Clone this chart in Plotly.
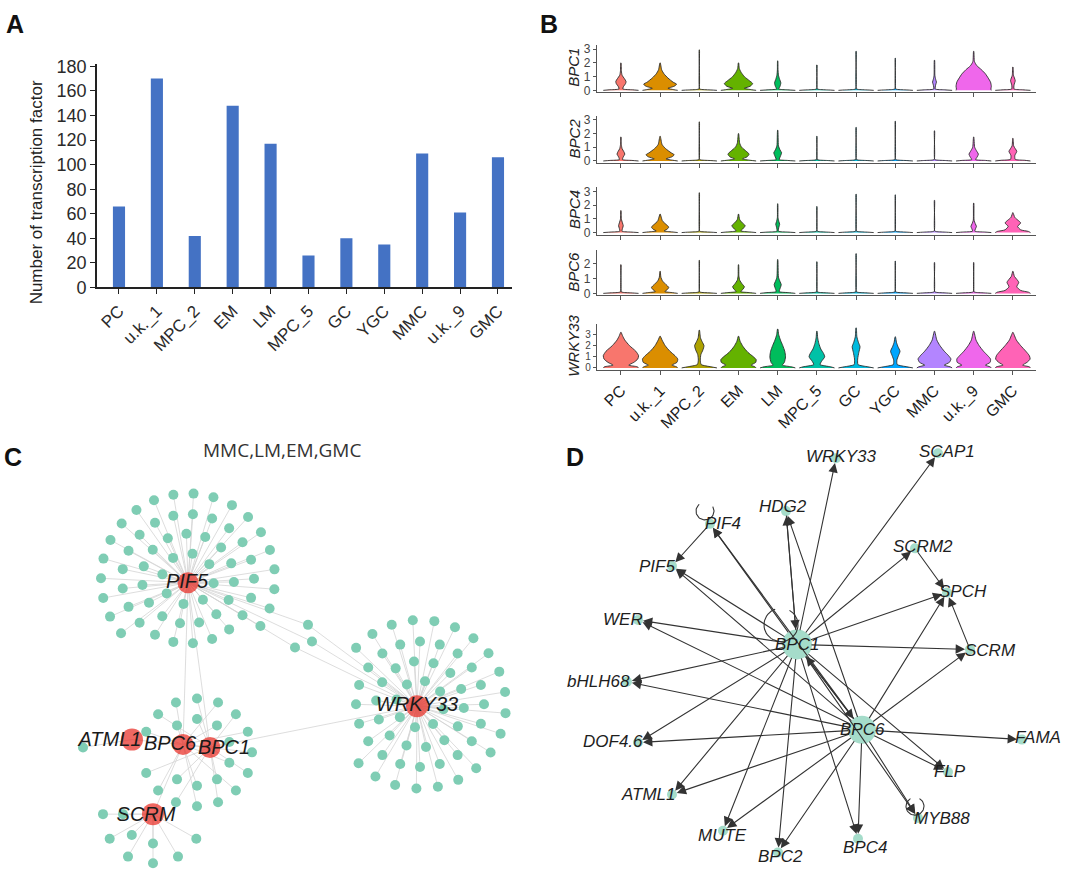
import math
import plotly.graph_objects as go

W, H = 1080, 883
FONT = "Liberation Sans, Arial, Helvetica, sans-serif"

# ---------------- Panel A data ----------------
cell_types = ["PC", "u.k._1", "MPC_2", "EM", "LM", "MPC_5", "GC", "YGC", "MMC", "u.k._9", "GMC"]
tf_counts = [66, 170, 42, 148, 117, 26, 40, 35, 109, 61, 106]
a_yticks = [0, 20, 40, 60, 80, 100, 120, 140, 160, 180]

# ---------------- Panel B data ----------------
genes = ["BPC1", "BPC2", "BPC4", "BPC6", "WRKY33"]
violin_colors = ["#F8766D", "#DB8E00", "#AEA200", "#64B200", "#00BD5C", "#00C1A7",
                 "#00BADE", "#00A6FF", "#B385FF", "#EF67EB", "#FF63B6"]
# density profiles: [expression, half-width]
bpc1_profiles = [
    [[0, .45], [.04, .3], [.1, .05], [.25, .06], [.5, .12], [.65, .13], [.85, .09], [1.1, .03], [1.4, .012], [2.0, .003]],
    [[0, .45], [.05, .35], [.15, .2], [.3, .36], [.45, .42], [.6, .33], [.9, .2], [1.2, .1], [1.5, .04], [2.0, .004]],
    [[0, .45], [.03, .3], [.07, .05], [.12, .006], [2.95, .003]],
    [[0, .45], [.05, .33], [.15, .15], [.3, .3], [.5, .36], [.7, .28], [1.0, .15], [1.3, .07], [1.6, .02], [2.0, .004]],
    [[0, .45], [.04, .25], [.1, .03], [.3, .06], [.55, .08], [.8, .05], [1.1, .02], [1.5, .008], [2.15, .003]],
    [[0, .45], [.03, .3], [.07, .05], [.12, .006], [1.85, .003]],
    [[0, .45], [.03, .3], [.07, .05], [.12, .006], [2.85, .003]],
    [[0, .45], [.03, .3], [.07, .05], [.12, .006], [2.35, .003]],
    [[0, .45], [.04, .25], [.1, .02], [.4, .03], [.6, .05], [.8, .03], [1.1, .01], [2.2, .003]],
    [[0, .45], [.1, .44], [.3, .45], [.6, .43], [.9, .37], [1.2, .3], [1.5, .2], [1.8, .08], [2.1, .02], [2.85, .003]],
    [[0, .45], [.04, .25], [.1, .03], [.4, .03], [.7, .06], [.9, .04], [1.1, .015], [1.7, .003]],
]
bpc2_profiles = [
    [[0, .45], [.04, .28], [.1, .04], [.3, .06], [.5, .1], [.7, .07], [.9, .03], [1.2, .01], [1.75, .003]],
    [[0, .45], [.05, .33], [.15, .15], [.3, .3], [.45, .36], [.6, .28], [.9, .14], [1.2, .05], [1.8, .004]],
    [[0, .45], [.03, .3], [.07, .05], [.12, .006], [2.85, .003]],
    [[0, .45], [.05, .3], [.15, .1], [.3, .22], [.5, .27], [.7, .2], [1.0, .08], [1.3, .03], [2.0, .003]],
    [[0, .45], [.04, .25], [.1, .04], [.35, .07], [.6, .1], [.8, .06], [1.1, .02], [2.25, .003]],
    [[0, .45], [.03, .3], [.07, .05], [.12, .006], [1.8, .003]],
    [[0, .45], [.03, .3], [.07, .05], [.12, .006], [2.45, .003]],
    [[0, .45], [.03, .3], [.07, .05], [.12, .006], [2.9, .003]],
    [[0, .45], [.03, .3], [.07, .05], [.12, .006], [2.2, .003]],
    [[0, .45], [.04, .3], [.1, .05], [.3, .09], [.5, .12], [.7, .08], [1.0, .025], [1.75, .003]],
    [[0, .45], [.05, .3], [.12, .06], [.4, .05], [.7, .1], [.9, .06], [1.1, .02], [1.65, .003]],
]
bpc4_profiles = [
    [[0, .45], [.04, .25], [.1, .03], [.3, .04], [.5, .06], [.7, .04], [1.0, .01], [1.6, .003]],
    [[0, .45], [.05, .3], [.12, .1], [.25, .18], [.4, .22], [.6, .15], [.85, .06], [1.35, .003]],
    [[0, .45], [.03, .3], [.07, .05], [.12, .006], [2.9, .003]],
    [[0, .45], [.05, .28], [.12, .06], [.3, .12], [.5, .17], [.7, .1], [.95, .03], [1.35, .003]],
    [[0, .45], [.04, .25], [.1, .02], [.4, .03], [.6, .05], [.8, .03], [1.1, .008], [2.1, .003]],
    [[0, .45], [.03, .3], [.07, .05], [.12, .006], [1.9, .003]],
    [[0, .45], [.03, .3], [.07, .05], [.12, .006], [2.8, .003]],
    [[0, .45], [.03, .3], [.07, .05], [.12, .006], [2.75, .003]],
    [[0, .45], [.03, .3], [.07, .05], [.12, .006], [2.35, .003]],
    [[0, .45], [.04, .28], [.1, .03], [.3, .05], [.45, .07], [.65, .04], [.9, .01], [2.15, .003]],
    [[0, .45], [.08, .4], [.2, .2], [.45, .12], [.7, .2], [.9, .13], [1.1, .05], [1.45, .003]],
]
bpc6_profiles = [
    [[0, .45], [.03, .3], [.07, .05], [.12, .006], [1.95, .003]],
    [[0, .45], [.05, .32], [.12, .12], [.25, .18], [.4, .22], [.6, .15], [.85, .06], [1.1, .02], [1.5, .003]],
    [[0, .45], [.03, .3], [.07, .05], [.12, .006], [2.25, .003]],
    [[0, .45], [.05, .3], [.12, .06], [.3, .12], [.45, .15], [.65, .09], [.9, .03], [1.2, .01], [1.95, .003]],
    [[0, .45], [.05, .3], [.12, .04], [.4, .07], [.6, .09], [.8, .06], [1.1, .02], [2.3, .003]],
    [[0, .45], [.03, .3], [.07, .05], [.12, .006], [2.15, .003]],
    [[0, .45], [.03, .3], [.07, .05], [.12, .006], [2.7, .003]],
    [[0, .45], [.03, .3], [.07, .05], [.12, .006], [2.2, .003]],
    [[0, .45], [.03, .3], [.07, .05], [.12, .006], [2.1, .003]],
    [[0, .45], [.03, .3], [.07, .05], [.12, .006], [2.1, .003]],
    [[0, .45], [.08, .4], [.2, .2], [.45, .1], [.75, .15], [.95, .1], [1.15, .04], [1.5, .003]],
]
wrky33_profiles = [
    [[0, .45], [.1, .42], [.25, .2], [.5, .33], [.8, .43], [1.1, .45], [1.5, .38], [2.0, .22], [2.5, .1], [2.9, .04], [3.2, .005]],
    [[0, .45], [.1, .42], [.25, .3], [.5, .43], [.8, .45], [1.1, .38], [1.5, .25], [2.0, .13], [2.5, .05], [2.85, .005]],
    [[0, .45], [.1, .3], [.3, .05], [.7, .025], [1.2, .04], [1.6, .09], [2.0, .12], [2.3, .08], [2.7, .03], [3.4, .004]],
    [[0, .45], [.1, .42], [.25, .32], [.5, .44], [.75, .45], [1.0, .38], [1.4, .24], [1.9, .12], [2.4, .04], [2.85, .005]],
    [[0, .45], [.1, .35], [.25, .12], [.5, .17], [1.0, .2], [1.5, .18], [2.0, .13], [2.5, .07], [3.0, .025], [3.5, .004]],
    [[0, .45], [.1, .35], [.3, .08], [.6, .12], [1.0, .2], [1.3, .17], [1.7, .1], [2.2, .05], [2.7, .02], [3.3, .004]],
    [[0, .45], [.1, .3], [.3, .05], [.8, .04], [1.4, .07], [1.9, .1], [2.3, .06], [2.8, .02], [3.6, .004]],
    [[0, .45], [.1, .3], [.3, .05], [.7, .04], [1.1, .08], [1.5, .12], [1.9, .07], [2.3, .03], [2.8, .004]],
    [[0, .45], [.1, .4], [.25, .25], [.5, .38], [.8, .42], [1.1, .36], [1.5, .25], [2.0, .14], [2.5, .06], [3.3, .004]],
    [[0, .45], [.1, .42], [.25, .3], [.5, .42], [.8, .43], [1.1, .36], [1.5, .25], [2.0, .14], [2.5, .06], [3.3, .004]],
    [[0, .45], [.1, .42], [.25, .25], [.5, .36], [.8, .44], [1.1, .42], [1.5, .33], [2.0, .2], [2.5, .09], [3.2, .004]],
]
gene_profiles = [bpc1_profiles, bpc2_profiles, bpc4_profiles, bpc6_profiles, wrky33_profiles]
gene_ticks = [[0, 1, 2, 3], [0, 1, 2, 3], [0, 1, 2, 3], [0, 1, 2], [0, 1, 2, 3]]

# ---------------- Panel C data ----------------
c_title = "MMC,LM,EM,GMC"
c_hubs = ["PIF5", "WRKY33", "BPC6", "BPC1", "ATML1", "SCRM"]
c_hub_edges = [("PIF5", "BPC6"), ("PIF5", "BPC1"), ("BPC1", "WRKY33"),
               ("BPC6", "SCRM"), ("ATML1", "BPC6"), ("BPC6", "BPC1")]
c_shared_targets = 3          # targets shared by PIF5 and WRKY33
c_atml1_targets = 1

# ---------------- Panel D data ----------------
d_genes = ["WRKY33", "SCAP1", "HDG2", "PIF4", "PIF5", "SCRM2", "SPCH", "WER", "BPC1", "SCRM",
           "bHLH68", "BPC6", "FAMA", "DOF4.6", "FLP", "ATML1", "MYB88", "MUTE", "BPC4", "BPC2"]
d_edges = [("BPC1", t) for t in ["WRKY33", "SCAP1", "HDG2", "PIF4", "PIF5", "WER", "bHLH68", "DOF4.6",
                                 "ATML1", "MUTE", "BPC2", "BPC4", "MYB88", "FLP", "SCRM", "SPCH",
                                 "SCRM2", "BPC6"]] + \
          [("BPC6", t) for t in ["BPC1", "HDG2", "PIF4", "PIF5", "WER", "bHLH68", "DOF4.6", "ATML1",
                                 "MUTE", "BPC2", "BPC4", "FLP", "MYB88", "FAMA", "SCRM", "SPCH"]] + \
          [("HDG2", "BPC1"), ("PIF4", "PIF5"), ("SCRM2", "SPCH"), ("SCRM", "SPCH")]
d_self_loops = ["BPC1", "PIF4", "MYB88"]

# ================= layout helpers (positions / styles) =================
def fx(p):
    return p / W


def fy(p):
    return 1 - p / H


def text_ann(text, px, py, size, color="#222", angle=0, family=FONT):
    return dict(text=text, x=fx(px), y=fy(py), xref="paper", yref="paper", showarrow=False,
                xanchor="center", yanchor="middle", textangle=angle,
                font=dict(family=family, size=size, color=color))


fig = go.Figure()
ann = []

# ---------------- Panel A ----------------
fig.add_trace(go.Bar(x=cell_types, y=tf_counts, width=0.32, marker=dict(color="#4472C4", line=dict(width=0)),
                     xaxis="x", yaxis="y"))
ann.append(text_ann("Number of transcription factor", 36, 189, 17, "#222", -90))

# ---------------- Panel B ----------------
b_rows = [(39, 87, -0.143, 3.286), (111, 159, -0.143, 3.286), (184, 232, -0.143, 3.286),
          (248, 294, -0.133, 2.933), (323, 370, -0.176, 3.97)]
b_tick_size = [12, 12, 12, 12, 10]
for r, gene in enumerate(genes):
    k = r + 2
    for i, prof in enumerate(gene_profiles[r]):
        xs = [i + w for y, w in prof] + [i - w for y, w in reversed(prof)]
        ys = [y for y, w in prof] + [y for y, w in reversed(prof)]
        fig.add_trace(go.Scatter(x=xs, y=ys, mode="lines", fill="toself", fillcolor=violin_colors[i],
                                 line=dict(color="#2e2e2e", width=0.9, shape="spline", smoothing=0.6),
                                 xaxis=f"x{k}", yaxis=f"y{k}", hoverinfo="skip"))
    top, bot = b_rows[r][0], b_rows[r][1]
    ann.append(text_ann(f"<i>{gene}</i>", 574, (top + bot) / 2 - 1, 15, "#222", -90))

# ---------------- Panel C (network layout in page pixels) ----------------
c_pos = {"PIF5": (188, 587), "WRKY33": (417, 713), "BPC6": (183, 752), "BPC1": (210, 755),
         "ATML1": (132, 747), "SCRM": (153, 823)}


def in_arc(a, lo, hi):
    a %= 360
    return lo <= a <= hi if lo <= hi else (a >= lo or a <= hi)


def ring(cx, cy, rad, n, phase, keep=None):
    pts = []
    for j in range(n):
        a = phase + 360.0 * j / n
        if keep and not in_arc(a, keep[0], keep[1]):
            continue
        pts.append((cx + rad * math.cos(math.radians(a)), cy + rad * math.sin(math.radians(a))))
    return pts


c_leaves = []  # (x, y, [hubs])
for spec in [(26, 8, 10, None), (46, 15, 4, None), (66, 21, 0, None), (87, 27, 7, (135, 45))]:
    for p in ring(c_pos["PIF5"][0], c_pos["PIF5"][1] - 4, spec[0], spec[1], spec[2], spec[3]):
        c_leaves.append((p, ["PIF5"]))
for spec in [(24, 8, 12, None), (44, 14, 5, None), (64, 20, 0, None), (86, 25, 6, (215, 145))]:
    for p in ring(c_pos["WRKY33"][0] + 3, c_pos["WRKY33"][1] - 2, spec[0], spec[1], spec[2], spec[3]):
        c_leaves.append((p, ["WRKY33"]))
bpc_c = (197, 760)
for j, p in enumerate(ring(bpc_c[0], bpc_c[1], 34, 10, 18, (200, 160)) + ring(bpc_c[0], bpc_c[1], 55, 16, 0, (195, 165))):
    c_leaves.append((p, ["BPC6" if j % 2 == 0 else "BPC1"]))
for p in ring(c_pos["SCRM"][0], c_pos["SCRM"][1], 30, 8, 0, (80, 200)) + ring(c_pos["SCRM"][0], c_pos["SCRM"][1], 50, 12, 0, (25, 185)):
    c_leaves.append((p, ["SCRM"]))
bridge_pts = [(308, 630), (312, 647), (295, 653)][:c_shared_targets]
for p in bridge_pts:
    c_leaves.append((p, ["PIF5", "WRKY33"]))
for p in [(83, 755)][:c_atml1_targets]:
    c_leaves.append((p, ["ATML1"]))

ex, ey = [], []
for p, hubs in c_leaves:
    for h in hubs:
        ex += [c_pos[h][0], p[0], None]
        ey += [c_pos[h][1], p[1], None]
for a, b in c_hub_edges:
    ex += [c_pos[a][0], c_pos[b][0], None]
    ey += [c_pos[a][1], c_pos[b][1], None]
fig.add_trace(go.Scatter(x=ex, y=ey, mode="lines", line=dict(color="#d4d4d4", width=0.8),
                         xaxis="x7", yaxis="y7", hoverinfo="skip"))
fig.add_trace(go.Scatter(x=[p[0] for p, h in c_leaves], y=[p[1] for p, h in c_leaves], mode="markers",
                         marker=dict(size=10, color="#7fcdb4", line=dict(width=0)), xaxis="x7", yaxis="y7",
                         hoverinfo="skip"))
hub_size = {"PIF5": 21, "WRKY33": 22, "BPC6": 21, "BPC1": 21, "ATML1": 22, "SCRM": 22}
fig.add_trace(go.Scatter(x=[c_pos[h][0] for h in c_hubs], y=[c_pos[h][1] for h in c_hubs], mode="markers",
                         marker=dict(size=[hub_size[h] for h in c_hubs], color="#e8281f", line=dict(width=0)),
                         xaxis="x7", yaxis="y7", hoverinfo="skip"))
c_label_pos = {"PIF5": (187, 587), "WRKY33": (417, 713), "BPC6": (170, 752), "BPC1": (224, 757),
               "ATML1": (110, 748), "SCRM": (146, 825)}
fig.add_trace(go.Scatter(x=[c_label_pos[h][0] for h in c_hubs], y=[c_label_pos[h][1] for h in c_hubs],
                         mode="text", text=[f"<i>{h}</i>" for h in c_hubs],
                         textfont=dict(family=FONT, size=20, color="#1a1a1a"), xaxis="x7", yaxis="y7",
                         hoverinfo="skip"))
ann.append(text_ann(c_title, 282, 452, 19, "#333", 0, "Open Sans, sans-serif"))

# ---------------- Panel D (network layout in page pixels) ----------------
d_pos = {"WRKY33": (836, 460), "SCAP1": (938, 455), "HDG2": (786, 514), "PIF4": (710, 527),
         "PIF5": (672, 570), "SCRM2": (915, 552), "SPCH": (947, 597), "WER": (638, 625),
         "BPC1": (797, 650), "SCRM": (970, 655), "bHLH68": (627, 688), "BPC6": (862, 737),
         "FAMA": (1022, 747), "DOF4.6": (638, 750), "FLP": (948, 780), "ATML1": (672, 803),
         "MYB88": (918, 827), "MUTE": (723, 840), "BPC4": (858, 848), "BPC2": (778, 862)}
d_label = {"WRKY33": (841, 458), "SCAP1": (947, 453), "HDG2": (783, 509), "PIF4": (723, 527),
           "PIF5": (657, 570), "SCRM2": (923, 550), "SPCH": (963, 596), "WER": (623, 625),
           "BPC1": (797, 650), "SCRM": (990, 656), "bHLH68": (598, 688), "BPC6": (862, 737),
           "FAMA": (1038, 745), "DOF4.6": (613, 749), "FLP": (950, 780), "ATML1": (648, 803),
           "MYB88": (942, 827), "MUTE": (722, 845), "BPC4": (865, 857), "BPC2": (780, 866)}
d_size = {g: 10 for g in d_genes}
d_size["BPC1"] = 30
d_size["BPC6"] = 28

fig.add_trace(go.Scatter(x=[d_pos[g][0] for g in d_genes], y=[d_pos[g][1] for g in d_genes], mode="markers",
                         marker=dict(size=[d_size[g] for g in d_genes], color="#7fcdb4", line=dict(width=0)),
                         xaxis="x8", yaxis="y8", hoverinfo="skip"))
# self-loop arcs: (centre x, centre y, radius, start angle, end angle) in page pixels
loop_geom = {"BPC1": (781, 630, 17, -60, 250), "PIF4": (705, 514, 9, -30, 230), "MYB88": (915, 815, 9, -60, 240)}
for g in d_self_loops:
    cx, cy, rr, a0, a1 = loop_geom[g]
    ts = [math.radians(a0 + (a1 - a0) * t / 40) for t in range(41)]
    fig.add_trace(go.Scatter(x=[cx + rr * math.cos(t) for t in ts], y=[cy + rr * math.sin(t) for t in ts],
                             mode="lines", line=dict(color="#333", width=1.1), xaxis="x8", yaxis="y8",
                             hoverinfo="skip"))

for s, t in d_edges:
    ann.append(dict(x=d_pos[t][0], y=d_pos[t][1], ax=d_pos[s][0], ay=d_pos[s][1],
                    xref="x8", yref="y8", axref="x8", ayref="y8", text="", showarrow=True,
                    arrowhead=2, arrowsize=1.7, arrowwidth=1.1, arrowcolor="#333",
                    standoff=d_size[t] / 2, startstandoff=d_size[s] / 2 - 2))
for g in d_genes:
    ann.append(dict(x=d_label[g][0], y=d_label[g][1], xref="x8", yref="y8", text=f"<i>{g}</i>",
                    showarrow=False, xanchor="center", yanchor="middle",
                    font=dict(family=FONT, size=17, color="#1e1e1e")))

# ---------------- panel letters ----------------
for letter, (px, py) in zip("ABCD", [(15, 17), (549, 17), (13, 459), (575, 459)]):
    ann.append(text_ann(f"<b>{letter}</b>", px, py, 25, "#111"))

# ---------------- axes ----------------
layout = dict(width=W, height=H, margin=dict(l=0, r=0, t=0, b=0), paper_bgcolor="white",
              plot_bgcolor="rgba(0,0,0,0)", showlegend=False, annotations=ann,
              font=dict(family=FONT))
layout["xaxis"] = dict(domain=[fx(97), fx(512)], range=[-0.58, 10.37], type="category", tickangle=-45,
                       ticks="outside", ticklen=5, tickcolor="#222", showline=True, linecolor="#222",
                       linewidth=1.6, showgrid=False, zeroline=False, anchor="y",
                       tickfont=dict(family=FONT, size=17, color="#2a2a2a"))
layout["yaxis"] = dict(domain=[fy(286), fy(58)], range=[0, 182], tickvals=a_yticks, ticks="outside",
                       ticklen=5, tickcolor="#222", showline=True, linecolor="#222", linewidth=1.6,
                       showgrid=False, zeroline=False, anchor="x",
                       tickfont=dict(family=FONT, size=18, color="#2a2a2a"))
for r in range(5):
    k = r + 2
    top, bot, lo, hi = b_rows[r]
    layout[f"xaxis{k}"] = dict(domain=[fx(597), fx(1036)], range=[-0.61, 10.59], anchor=f"y{k}",
                               tickvals=list(range(len(cell_types))), ticktext=cell_types,
                               showticklabels=(r == 4), tickangle=-45, ticks="outside", ticklen=4,
                               tickcolor="#555", showline=True, linecolor="#555", linewidth=1.2,
                               showgrid=False, zeroline=False,
                               tickfont=dict(family=FONT, size=16, color="#1a1a1a"))
    layout[f"yaxis{k}"] = dict(domain=[fy(bot), fy(top)], range=[lo, hi], anchor=f"x{k}",
                               tickvals=gene_ticks[r], ticks="outside", ticklen=3, tickcolor="#555",
                               showline=True, linecolor="#555", linewidth=1.2, showgrid=False,
                               zeroline=False, tickfont=dict(family=FONT, size=b_tick_size[r], color="#444"))
hidden = dict(showgrid=False, zeroline=False, showticklabels=False, showline=False, ticks="")
layout["xaxis7"] = dict(domain=[0, 0.5], range=[0, 540], anchor="y7", **hidden)
layout["yaxis7"] = dict(domain=[0, fy(430)], range=[883, 430], anchor="x7", **hidden)
layout["xaxis8"] = dict(domain=[0.5, 1], range=[540, 1080], anchor="y8", **hidden)
layout["yaxis8"] = dict(domain=[0, fy(430)], range=[883, 430], anchor="x8", **hidden)
fig.update_layout(**layout)

fig.write_html("out.html", config={"displayModeBar": False},
               post_script="document.body.style.margin='0px';")
